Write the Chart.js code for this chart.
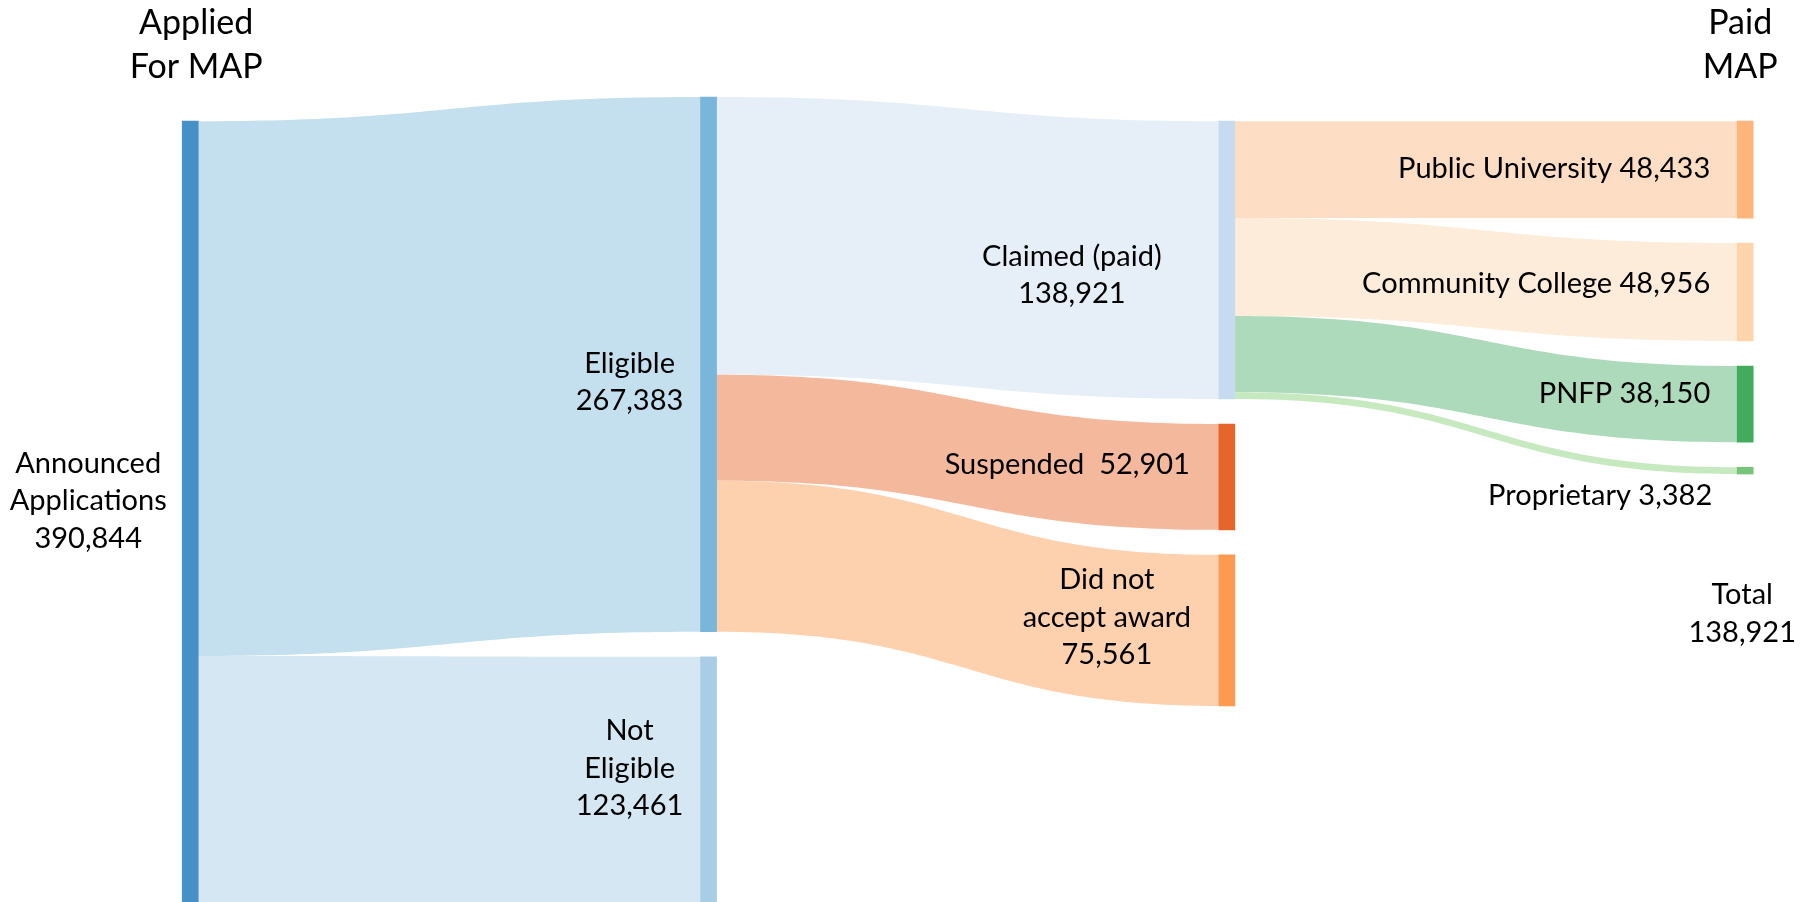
<!DOCTYPE html>
<html>
<head>
  <title>MAP Applications Flow</title>
  <script src="https://cdn.jsdelivr.net/npm/chart.js"></script>
  <style>
    body { margin: 0; background: #fff; }
    canvas { display: block; }
  </style>
</head>
<body>
  <canvas id="sankey" width="1810" height="902"></canvas>
  <script>
    // Nodes and flows
    const nodeNames = ['Announced Applications', 'Eligible', 'Not Eligible', 'Claimed (paid)', 'Suspended',
      'Did not accept award', 'Public University', 'Community College', 'PNFP', 'Proprietary'];
    const nodeColumns = [0, 1, 1, 2, 2, 2, 3, 3, 3, 3];
    const linkSources = [0, 0, 1, 1, 1, 3, 3, 3, 3];
    const linkTargets = [1, 2, 3, 4, 5, 6, 7, 8, 9];
    const linkValues = [267383, 123461, 138921, 52901, 75561, 48433, 48956, 38150, 3382];

    // Label text
    const nodeLabelLines = [
      ['Announced', 'Applications', '390,844'],
      ['Eligible', '267,383'],
      ['Not', 'Eligible', '123,461'],
      ['Claimed (paid)', '138,921'],
      ['Suspended  52,901'],
      ['Did not', 'accept award', '75,561'],
      ['Public University 48,433'],
      ['Community College 48,956'],
      ['PNFP 38,150'],
      ['Proprietary 3,382']
    ];
    const columnTitles = [['Applied', 'For MAP'], [], [], ['Paid', 'MAP']];
    const totalLines = ['Total', '138,921'];

    // Layout + style
    const GAP = 12500;
    const COLUMN_TOP = [60600, 48500, 60600, 60600];
    const NODE_COLORS = ['#4590c6', '#7ab5da', '#a9cde4', '#c6dbef', '#e5652a', '#fd9a4f',
      '#fdb57c', '#fdd4ab', '#42ab5d', '#77c478'];
    const LINK_COLORS = ['#c4dfed', '#d5e7f2', '#e6eff8', '#f4b99d', '#fdd0ae',
      '#fddec4', '#feecdb', '#acdabb', '#c7e9c0'];
    // dx from node left edge (px), dy from node middle (px)
    const LABEL_PLACE = [
      { align: 'center', dx: -94, dy: -11 },
      { align: 'center', dx: -71, dy: 18 },
      { align: 'center', dx: -71, dy: -12 },
      { align: 'center', dx: -147, dy: 15 },
      { align: 'right', dx: -29, dy: -12 },
      { align: 'center', dx: -112, dy: -13 },
      { align: 'right', dx: -27, dy: -1 },
      { align: 'right', dx: -27, dy: -8 },
      { align: 'right', dx: -27, dy: -10 },
      { align: 'right', dx: -25, dy: 25 }
    ];
    const FONT = 'Lato, "Open Sans", sans-serif';
    const LINE_H = 37.5;

    // node sizes = larger of inflow / outflow
    const nodeValues = nodeNames.map((_, i) => {
      let inn = 0, out = 0;
      linkValues.forEach((v, k) => {
        if (linkSources[k] === i) out += v;
        if (linkTargets[k] === i) inn += v;
      });
      return Math.max(inn, out);
    });

    // stack nodes down each column
    const nodeTop = [];
    const cursor = COLUMN_TOP.slice();
    nodeNames.forEach((_, i) => {
      const c = nodeColumns[i];
      nodeTop[i] = cursor[c];
      cursor[c] += nodeValues[i] + GAP;
    });

    // link offsets inside source and target nodes
    const srcOff = nodeTop.slice(), tgtOff = nodeTop.slice();
    const links = linkValues.map((v, k) => {
      const s = linkSources[k], t = linkTargets[k];
      const l = { s, t, v, y0: srcOff[s], y1: tgtOff[t] };
      srcOff[s] += v;
      tgtOff[t] += v;
      return l;
    });

    const sankeyLinks = {
      id: 'sankeyLinks',
      beforeDatasetsDraw(chart) {
        const { ctx, scales: { y } } = chart;
        const meta = chart.getDatasetMeta(0);
        ctx.save();
        links.forEach((l, k) => {
          const sEl = meta.data[l.s], tEl = meta.data[l.t];
          const x0 = sEl.x + sEl.width / 2, x1 = tEl.x - tEl.width / 2;
          const a0 = y.getPixelForValue(l.y0), a1 = y.getPixelForValue(l.y0 + l.v);
          const b0 = y.getPixelForValue(l.y1), b1 = y.getPixelForValue(l.y1 + l.v);
          const xm = (x0 + x1) / 2;
          ctx.beginPath();
          ctx.moveTo(x0 - 1, a0);
          ctx.bezierCurveTo(xm, a0, xm, b0, x1 + 1, b0);
          ctx.lineTo(x1 + 1, b1);
          ctx.bezierCurveTo(xm, b1, xm, a1, x0 - 1, a1);
          ctx.closePath();
          ctx.fillStyle = LINK_COLORS[k];
          ctx.fill();
        });
        ctx.restore();
      }
    };

    const sankeyLabels = {
      id: 'sankeyLabels',
      afterDatasetsDraw(chart) {
        const { ctx, scales: { x, y } } = chart;
        const meta = chart.getDatasetMeta(0);
        ctx.save();
        ctx.fillStyle = '#000';
        ctx.textBaseline = 'middle';
        ctx.font = '29px ' + FONT;
        nodeLabelLines.forEach((lines, i) => {
          const el = meta.data[i];
          const left = el.x - el.width / 2;
          const mid = (y.getPixelForValue(nodeTop[i]) + y.getPixelForValue(nodeTop[i] + nodeValues[i])) / 2;
          const p = LABEL_PLACE[i];
          ctx.textAlign = p.align;
          lines.forEach((line, j) => {
            ctx.fillText(line, left + p.dx, mid + p.dy + (j - (lines.length - 1) / 2) * LINE_H);
          });
        });

        // total under the last column
        const last = nodeNames.length - 1;
        const lastMid = (y.getPixelForValue(nodeTop[last]) + y.getPixelForValue(nodeTop[last] + nodeValues[last])) / 2;
        ctx.textAlign = 'center';
        totalLines.forEach((line, j) => {
          ctx.fillText(line, x.getPixelForValue(3) - 3, lastMid + 143 + (j - 0.5) * LINE_H);
        });

        // column titles
        ctx.font = '34px ' + FONT;
        columnTitles.forEach((lines, c) => {
          const dx = c === 0 ? 6 : -5;
          lines.forEach((line, j) => {
            ctx.fillText(line, x.getPixelForValue(c) + dx, chart.chartArea.top + 23 + j * 44);
          });
        });
        ctx.restore();
      }
    };

    new Chart(document.getElementById('sankey'), {
      type: 'bar',
      data: {
        datasets: [{
          data: nodeNames.map((n, i) => ({ x: nodeColumns[i], y: [nodeTop[i], nodeTop[i] + nodeValues[i]] })),
          backgroundColor: NODE_COLORS,
          borderWidth: 0,
          barThickness: 16
        }]
      },
      options: {
        responsive: false,
        animation: false,
        layout: { padding: 0 },
        scales: {
          x: { type: 'linear', min: -0.367, max: 3.125, offset: false, display: false },
          y: { type: 'linear', min: 0, max: 451000, reverse: true, display: false }
        },
        plugins: {
          legend: { display: false },
          tooltip: { enabled: false }
        }
      },
      plugins: [sankeyLinks, sankeyLabels]
    });
  </script>
</body>
</html>
